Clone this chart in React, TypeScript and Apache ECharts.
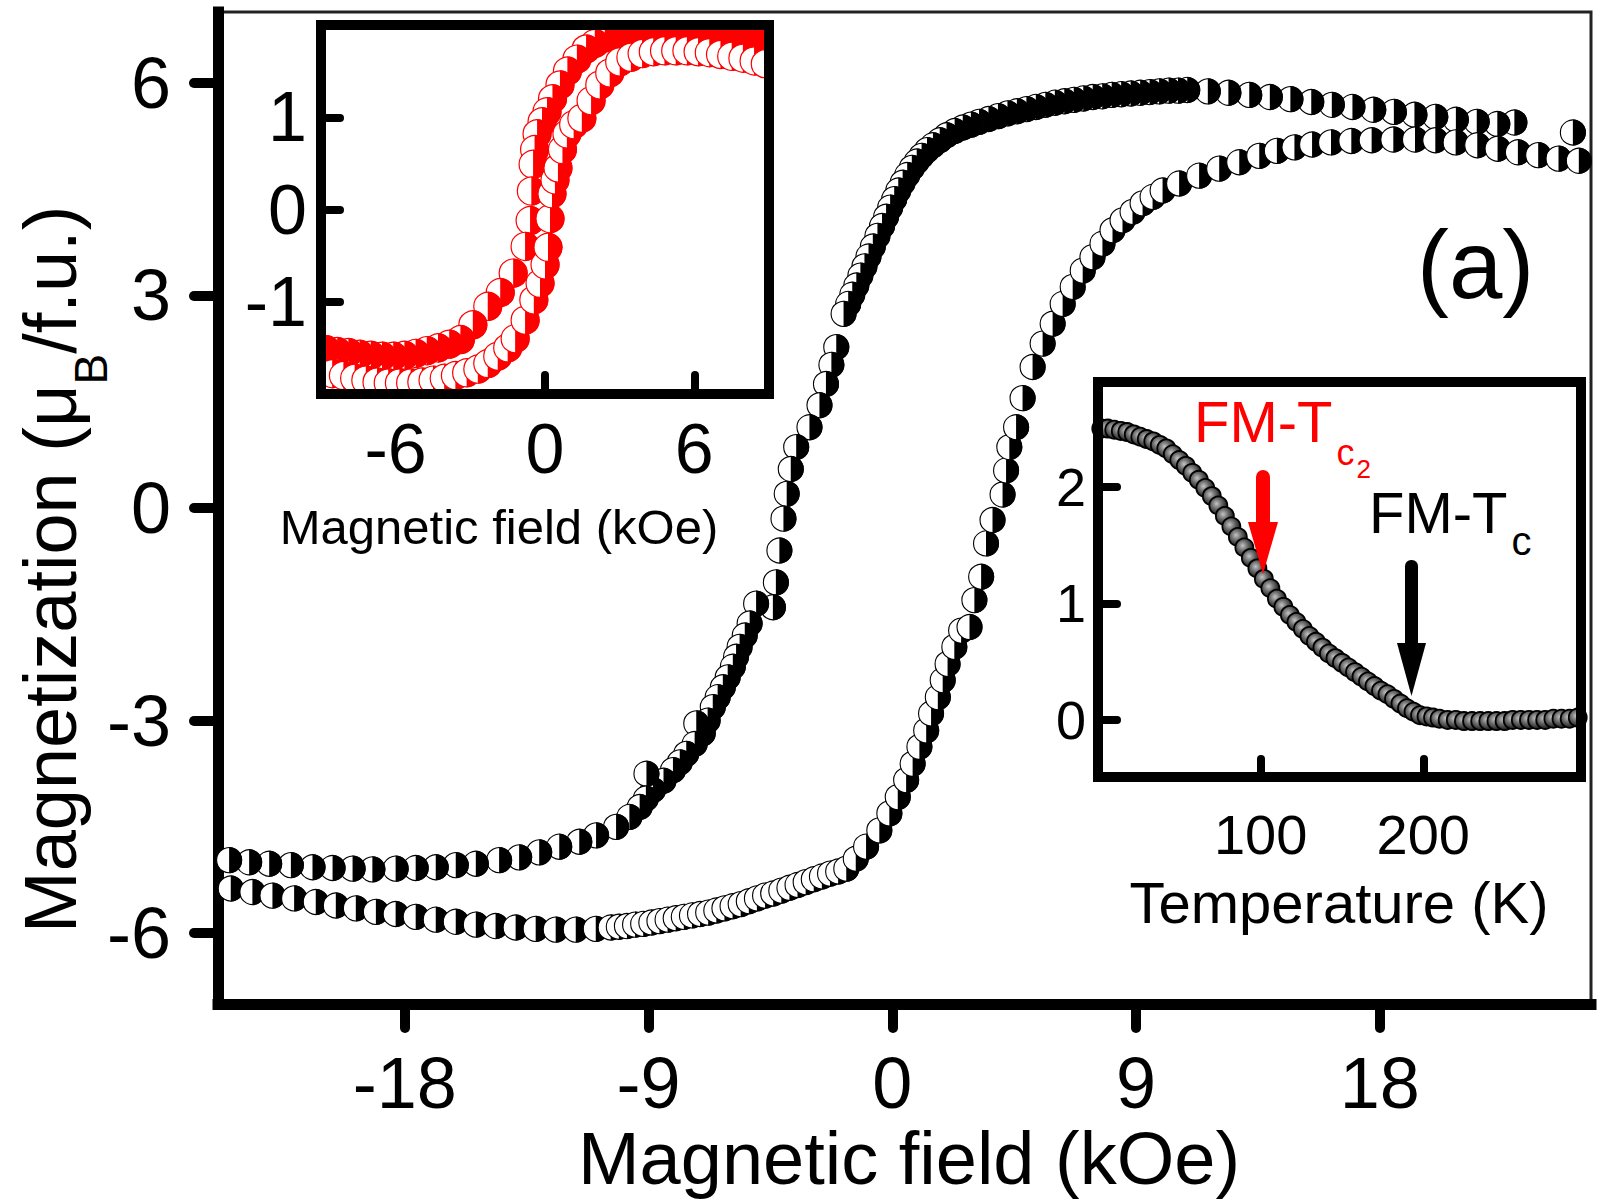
import React, { useEffect, useRef } from 'react';
import * as echarts from 'echarts';

// ---------- main loop: descending-field branch (upper) ----------
const upperField = [25.13, 22.97, 22.34, 21.58, 20.81, 20.05, 19.28, 18.52, 17.76, 16.99, 16.23, 15.47, 14.7, 13.94, 13.18, 12.41, 11.65, 10.89, 10.55, 10.2, 9.85, 9.5, 9.15, 8.8, 8.45, 8.1, 7.75, 7.4, 7.05, 6.7, 6.35, 6.0, 5.65, 5.3, 4.95, 4.6, 4.25, 3.9, 3.55, 3.2, 2.9, 2.6, 2.3, 2.0, 1.75, 1.5, 1.28, 1.08, 0.9, 0.72, 0.55, 0.38, 0.22, 0.07, -0.08, -0.23, -0.38, -0.55, -0.72, -0.88, -1.03, -1.18, -1.33, -1.48, -1.63, -1.8, -2.07, -2.25, -2.45, -2.69, -3.06, -3.55, -3.75, -3.9, -4.02, -4.17, -4.3, -4.41, -5.03, -5.27, -5.45, -5.64, -5.77, -5.89, -6.08, -6.26, -6.45, -6.63, -6.82, -7.0, -7.24, -7.3, -7.61, -7.85, -8.1, -8.45, -8.84, -9.08, -9.1, -9.33, -9.71, -10.2, -10.94, -11.56, -12.3, -13.04, -13.78, -14.52, -15.38, -16.12, -16.86, -17.6, -18.34, -19.2, -19.93, -20.67, -21.41, -22.21, -23.01, -23.75, -24.49];
const upperMoment = [5.3, 5.44, 5.42, 5.45, 5.48, 5.52, 5.55, 5.59, 5.62, 5.66, 5.69, 5.73, 5.77, 5.8, 5.83, 5.86, 5.88, 5.9, 5.89, 5.89, 5.88, 5.87, 5.86, 5.85, 5.84, 5.83, 5.81, 5.8, 5.78, 5.76, 5.74, 5.72, 5.69, 5.66, 5.63, 5.6, 5.57, 5.53, 5.49, 5.45, 5.41, 5.37, 5.32, 5.26, 5.19, 5.12, 5.05, 4.97, 4.89, 4.8, 4.7, 4.59, 4.48, 4.36, 4.24, 4.11, 3.98, 3.84, 3.69, 3.55, 3.41, 3.28, 3.14, 3.01, 2.88, 2.74, 2.27, 2.02, 1.75, 1.45, 1.14, 0.86, 0.55, 0.2, -0.15, -0.6, -1.05, -1.4, -1.35, -1.63, -1.8, -1.96, -2.1, -2.24, -2.39, -2.53, -2.67, -2.81, -3.0, -3.18, -3.04, -3.33, -3.47, -3.59, -3.7, -3.85, -3.98, -3.75, -4.1, -4.22, -4.36, -4.5, -4.62, -4.71, -4.78, -4.86, -4.93, -4.97, -5.02, -5.04, -5.07, -5.08, -5.09, -5.1, -5.09, -5.08, -5.07, -5.04, -5.02, -5.0, -4.97];

// ---------- main loop: ascending-field branch (lower) ----------
const lowerField = [-24.43, -23.63, -22.89, -22.09, -21.29, -20.55, -19.81, -19.07, -18.34, -17.6, -16.86, -16.12, -15.38, -14.65, -13.91, -13.17, -12.43, -11.69, -10.95, -10.4, -10.1, -9.8, -9.5, -9.2, -8.9, -8.6, -8.3, -8.0, -7.7, -7.4, -7.1, -6.8, -6.5, -6.2, -5.9, -5.6, -5.3, -5.0, -4.7, -4.4, -4.1, -3.8, -3.5, -3.2, -2.9, -2.6, -2.3, -2.0, -1.7, -1.35, -0.97, -0.48, -0.11, 0.2, 0.51, 0.75, 1.0, 1.25, 1.43, 1.68, 1.86, 2.04, 2.29, 2.54, 2.85, 3.03, 3.28, 3.46, 3.7, 4.07, 4.2, 4.32, 4.57, 4.81, 5.18, 5.55, 5.92, 6.29, 6.66, 7.03, 7.39, 7.76, 8.13, 8.5, 8.87, 9.24, 9.61, 9.98, 10.59, 11.33, 12.07, 12.81, 13.55, 14.2, 14.85, 15.5, 16.2, 16.95, 17.7, 18.5, 19.3, 20.05, 20.8, 21.6, 22.35, 23.1, 23.85, 24.6, 25.35];
const lowerMoment = [-5.37, -5.42, -5.47, -5.51, -5.56, -5.61, -5.65, -5.7, -5.73, -5.77, -5.81, -5.84, -5.88, -5.9, -5.92, -5.94, -5.95, -5.95, -5.94, -5.92, -5.91, -5.9, -5.88, -5.87, -5.85, -5.83, -5.81, -5.79, -5.77, -5.75, -5.73, -5.71, -5.68, -5.65, -5.62, -5.59, -5.55, -5.51, -5.47, -5.44, -5.4, -5.36, -5.32, -5.28, -5.24, -5.2, -5.16, -5.13, -5.09, -4.95, -4.78, -4.55, -4.31, -4.08, -3.84, -3.61, -3.37, -3.14, -2.9, -2.67, -2.43, -2.2, -1.96, -1.73, -1.68, -1.3, -0.97, -0.5, -0.17, 0.19, 0.53, 0.86, 1.14, 1.55, 1.99, 2.32, 2.6, 2.88, 3.12, 3.35, 3.54, 3.73, 3.92, 4.06, 4.18, 4.3, 4.39, 4.48, 4.58, 4.69, 4.79, 4.88, 4.97, 5.04, 5.09, 5.13, 5.16, 5.18, 5.19, 5.2, 5.2, 5.19, 5.16, 5.12, 5.07, 5.02, 4.98, 4.93, 4.9];

// ---------- inset (top-left): loop, red ----------
const insetDownField = [9, 8.55, 8.1, 7.65, 7.2, 6.75, 6.3, 5.85, 5.4, 4.95, 4.5, 4.05, 3.6, 3.2, 2.8, 2.4, 2.0, 1.65, 1.28, 0.9, 0.6, 0.3, 0.08, -0.12, -0.32, -0.42, -0.48, -0.55, -0.6, -0.8, -1.28, -1.8, -2.3, -2.9, -3.4, -3.85, -4.3, -4.75, -5.2, -5.65, -6.1, -6.55, -7.0, -7.45, -7.9, -8.35, -8.8];
const insetDownMoment = [1.82, 1.84, 1.86, 1.87, 1.88, 1.9, 1.91, 1.92, 1.93, 1.93, 1.93, 1.93, 1.93, 1.92, 1.9, 1.86, 1.8, 1.74, 1.63, 1.5, 1.35, 1.2, 1.06, 0.95, 0.82, 0.65, 0.49, 0.2, -0.12, -0.4, -0.69, -0.9, -1.05, -1.25, -1.41, -1.46, -1.5, -1.53, -1.56, -1.58, -1.59, -1.59, -1.58, -1.57, -1.55, -1.54, -1.52];
const insetUpField = [-9, -8.55, -8.1, -7.65, -7.2, -6.75, -6.3, -5.85, -5.4, -4.95, -4.5, -4.05, -3.6, -3.15, -2.7, -2.3, -1.9, -1.5, -1.2, -0.8, -0.45, -0.2, 0, 0.12, 0.2, 0.28, 0.4, 0.52, 0.7, 0.88, 1.15, 1.48, 1.85, 2.2, 2.6, 3.0, 3.45, 3.9, 4.35, 4.8, 5.25, 5.7, 6.15, 6.6, 7.05, 7.5, 7.95, 8.4, 8.85];
const insetUpMoment = [-1.75, -1.78, -1.8, -1.83, -1.85, -1.87, -1.88, -1.88, -1.88, -1.87, -1.85, -1.83, -1.8, -1.77, -1.73, -1.67, -1.59, -1.5, -1.4, -1.2, -0.98, -0.8, -0.6, -0.41, -0.1, 0.17, 0.32, 0.45, 0.65, 0.82, 0.92, 0.99, 1.18, 1.35, 1.48, 1.6, 1.65, 1.69, 1.71, 1.72, 1.72, 1.72, 1.71, 1.7, 1.68, 1.66, 1.64, 1.61, 1.58];

// ---------- inset (bottom-right): M(T) ----------
const temperature = [2, 6, 10, 14, 18, 22, 26, 30, 34, 38, 42, 46, 50, 54, 58, 62, 66, 70, 74, 78, 82, 86, 90, 94, 98, 102, 106, 110, 114, 118, 122, 126, 130, 134, 138, 142, 146, 150, 154, 158, 162, 166, 170, 174, 178, 182, 186, 190, 194, 198, 202, 206, 210, 215, 220, 225, 230, 235, 240, 245, 250, 255, 260, 265, 270, 275, 280, 285, 290, 295];
const momentT = [2.5, 2.5, 2.49, 2.48, 2.47, 2.45, 2.43, 2.41, 2.39, 2.36, 2.33, 2.28, 2.23, 2.18, 2.12, 2.06, 1.99, 1.92, 1.84, 1.75, 1.66, 1.57, 1.48, 1.39, 1.3, 1.21, 1.13, 1.04, 0.97, 0.9, 0.84, 0.78, 0.72, 0.67, 0.62, 0.57, 0.53, 0.49, 0.45, 0.41, 0.37, 0.33, 0.29, 0.25, 0.22, 0.18, 0.14, 0.1, 0.07, 0.04, 0.03, 0.02, 0.01, 0.0, 0.0, -0.01, -0.01, -0.01, -0.01, -0.01, -0.01, 0.0, 0.0, 0.0, 0.0, 0.0, 0.01, 0.01, 0.01, 0.02];

// ---------- tick labels ----------
const mainXTicks = [-18, -9, 0, 9, 18];
const mainYTicks = [-6, -3, 0, 3, 6];
const insetAXTicks = [-6, 0, 6];
const insetAYTicks = [-1, 0, 1];
const insetBXTicks = [100, 200];
const insetBYTicks = [0, 1, 2];

const FONT = '"Liberation Sans", Arial, Helvetica, sans-serif';

const zip = (a: number[], b: number[]) => a.map((v, i) => [v, b[i]]);

const halfMarker = (color: string, r: number, lw: number) => (_p: any, api: any) => {
  const p = api.coord([api.value(0), api.value(1)]);
  return {
    type: 'group',
    children: [
      { type: 'circle', shape: { cx: p[0], cy: p[1], r }, style: { fill: '#fff', stroke: color, lineWidth: lw } },
      {
        type: 'sector',
        shape: { cx: p[0], cy: p[1], r0: 0, r: r + lw / 2, startAngle: -Math.PI / 2, endAngle: Math.PI / 2, clockwise: true },
        style: { fill: color },
      },
    ],
  };
};

const mid = (baseline: number, size: number) => baseline - 0.3465 * size;

export default function App() {
  const ref = useRef<HTMLDivElement>(null);
  useEffect(() => {
    const chart = echarts.init(ref.current as HTMLDivElement, null, { renderer: 'svg' });
    const ctx = document.createElement('canvas').getContext('2d') as CanvasRenderingContext2D;
    const tw = (s: string, size: number) => {
      ctx.font = `${size}px "Liberation Sans"`;
      return ctx.measureText(s).width;
    };

    const yF = 74;
    const ySub = 46;
    const w1 = tw('Magnetization (μ', yF);
    const w2 = tw('B', ySub);
    const fmF = 58;
    const wFM = tw('FM-T', fmF);
    const wC = tw('c', 36);

    const lbl = (fontSize: number, margin: number, customValues: number[]) => ({
      fontSize, fontFamily: FONT, color: '#000', margin, customValues,
    });
    const tick = (inside: boolean, length: number, width: number, customValues: number[]) => ({
      inside, length, customValues, lineStyle: { color: '#000', width, cap: 'round' },
    });

    const option: any = {
      animation: false,
      backgroundColor: '#fff',
      grid: [
        { left: 218, top: 12, width: 1373, height: 992, show: true, borderColor: '#222', borderWidth: 3, backgroundColor: 'transparent' },
        { left: 321, top: 25, width: 448, height: 369 },
        { left: 1098, top: 382, width: 483, height: 395 },
      ],
      xAxis: [
        {
          type: 'value', gridIndex: 0, min: -24.9, max: 25.8, splitLine: { show: false },
          axisLine: { onZero: false, lineStyle: { color: '#000', width: 11, cap: 'square' } },
          axisTick: tick(false, 24, 10, mainXTicks),
          axisLabel: lbl(72, 43, mainXTicks),
        },
        {
          type: 'value', gridIndex: 1, min: -9, max: 9, splitLine: { show: false },
          axisLine: { show: false, onZero: false },
          axisTick: tick(true, 19, 8, insetAXTicks),
          axisLabel: lbl(70, 20, insetAXTicks),
        },
        {
          type: 'value', gridIndex: 2, min: 0, max: 297, splitLine: { show: false },
          axisLine: { show: false, onZero: false },
          axisTick: tick(true, 18, 8, insetBXTicks),
          axisLabel: lbl(56, 29, insetBXTicks),
        },
      ],
      yAxis: [
        {
          type: 'value', gridIndex: 0, min: -7, max: 7, splitLine: { show: false },
          axisLine: { onZero: false, lineStyle: { color: '#000', width: 11, cap: 'square' } },
          axisTick: tick(false, 24, 10, mainYTicks),
          axisLabel: lbl(72, 47, mainYTicks),
        },
        {
          type: 'value', gridIndex: 1, min: -2, max: 2, splitLine: { show: false },
          axisLine: { show: false, onZero: false },
          axisTick: tick(true, 19, 8, insetAYTicks),
          axisLabel: lbl(70, 14, insetAYTicks),
        },
        {
          type: 'value', gridIndex: 2, min: -0.49, max: 2.9, splitLine: { show: false },
          axisLine: { show: false, onZero: false },
          axisTick: tick(true, 19, 8, insetBYTicks),
          axisLabel: lbl(54, 12, insetBYTicks),
        },
      ],
      series: [
        { type: 'custom', xAxisIndex: 0, yAxisIndex: 0, data: zip(upperField, upperMoment), renderItem: halfMarker('#000', 12.5, 1.1), clip: false },
        { type: 'custom', xAxisIndex: 0, yAxisIndex: 0, data: zip(lowerField, lowerMoment), renderItem: halfMarker('#000', 12.5, 1.1), clip: false },
        { type: 'custom', xAxisIndex: 1, yAxisIndex: 1, data: zip(insetDownField, insetDownMoment), renderItem: halfMarker('#ff0000', 14, 1.2), clip: true },
        { type: 'custom', xAxisIndex: 1, yAxisIndex: 1, data: zip(insetUpField, insetUpMoment), renderItem: halfMarker('#ff0000', 14, 1.2), clip: true },
        {
          type: 'scatter', xAxisIndex: 2, yAxisIndex: 2, data: zip(temperature, momentT), symbol: 'circle', symbolSize: 18,
          itemStyle: {
            color: new echarts.graphic.RadialGradient(0.4, 0.4, 0.6, [
              { offset: 0, color: '#c4c4c4' },
              { offset: 0.45, color: '#6e6e6e' },
              { offset: 1, color: '#1a1a1a' },
            ]),
            borderColor: '#000', borderWidth: 1.8, opacity: 1,
          },
        },
      ],
      graphic: [
        { type: 'rect', z: 100, shape: { x: 321, y: 25, width: 448, height: 369 }, style: { fill: 'none', stroke: '#000', lineWidth: 10 } },
        { type: 'rect', z: 100, shape: { x: 1098, y: 382, width: 483, height: 395 }, style: { fill: 'none', stroke: '#000', lineWidth: 10 } },
        { type: 'text', z: 100, x: 909, y: mid(1184, 74), style: { text: 'Magnetic field (kOe)', fontSize: 74, fontFamily: FONT, fill: '#000', align: 'center', verticalAlign: 'middle' } },
        {
          type: 'group', z: 100, x: 76, y: 933, rotation: Math.PI / 2,
          children: [
            { type: 'text', x: 0, y: -0.3465 * yF, style: { text: 'Magnetization (μ', fontSize: yF, fontFamily: FONT, fill: '#000', align: 'left', verticalAlign: 'middle' } },
            { type: 'text', x: w1, y: -2 + 0.716 * ySub - 0.3465 * ySub, style: { text: 'B', fontSize: ySub, fontFamily: FONT, fill: '#000', align: 'left', verticalAlign: 'middle' } },
            { type: 'text', x: w1 + w2, y: -0.3465 * yF, style: { text: '/f.u.)', fontSize: yF, fontFamily: FONT, fill: '#000', align: 'left', verticalAlign: 'middle' } },
          ],
        },
        { type: 'text', z: 100, x: 499, y: mid(544, 49), style: { text: 'Magnetic field (kOe)', fontSize: 49, fontFamily: FONT, fill: '#000', align: 'center', verticalAlign: 'middle' } },
        { type: 'text', z: 100, x: 1339, y: mid(923, 58), style: { text: 'Temperature (K)', fontSize: 58, fontFamily: FONT, fill: '#000', align: 'center', verticalAlign: 'middle' } },
        { type: 'text', z: 100, x: 1417, y: mid(298, 96), style: { text: '(a)', fontSize: 96, fontFamily: FONT, fill: '#000', align: 'left', verticalAlign: 'middle' } },
        { type: 'text', z: 100, x: 1194, y: mid(442, fmF), style: { text: 'FM-T', fontSize: fmF, fontFamily: FONT, fill: '#ff0000', align: 'left', verticalAlign: 'middle' } },
        { type: 'text', z: 100, x: 1194 + wFM + 4, y: mid(465, 36), style: { text: 'c', fontSize: 36, fontFamily: FONT, fill: '#ff0000', align: 'left', verticalAlign: 'middle' } },
        { type: 'text', z: 100, x: 1194 + wFM + 4 + wC + 2, y: mid(478, 26), style: { text: '2', fontSize: 26, fontFamily: FONT, fill: '#ff0000', align: 'left', verticalAlign: 'middle' } },
        { type: 'text', z: 100, x: 1369, y: mid(533, fmF), style: { text: 'FM-T', fontSize: fmF, fontFamily: FONT, fill: '#000', align: 'left', verticalAlign: 'middle' } },
        { type: 'text', z: 100, x: 1369 + wFM + 4, y: mid(555, 40), style: { text: 'c', fontSize: 40, fontFamily: FONT, fill: '#000', align: 'left', verticalAlign: 'middle' } },
        { type: 'rect', z: 100, shape: { x: 1256, y: 470, width: 14, height: 56, r: [7, 7, 0, 0] }, style: { fill: '#ff0000' } },
        { type: 'polygon', z: 100, shape: { points: [[1248, 522], [1278, 522], [1263, 574]] }, style: { fill: '#ff0000' } },
        { type: 'rect', z: 100, shape: { x: 1405, y: 560, width: 13, height: 86, r: [6, 6, 0, 0] }, style: { fill: '#000' } },
        { type: 'polygon', z: 100, shape: { points: [[1397, 643], [1426, 643], [1411.5, 696]] }, style: { fill: '#000' } },
      ],
    };
    chart.setOption(option);
    return () => chart.dispose();
  }, []);
  return <div ref={ref} style={{ position: 'absolute', left: 0, top: 0, width: 1598, height: 1203, background: '#fff' }} />;
}
